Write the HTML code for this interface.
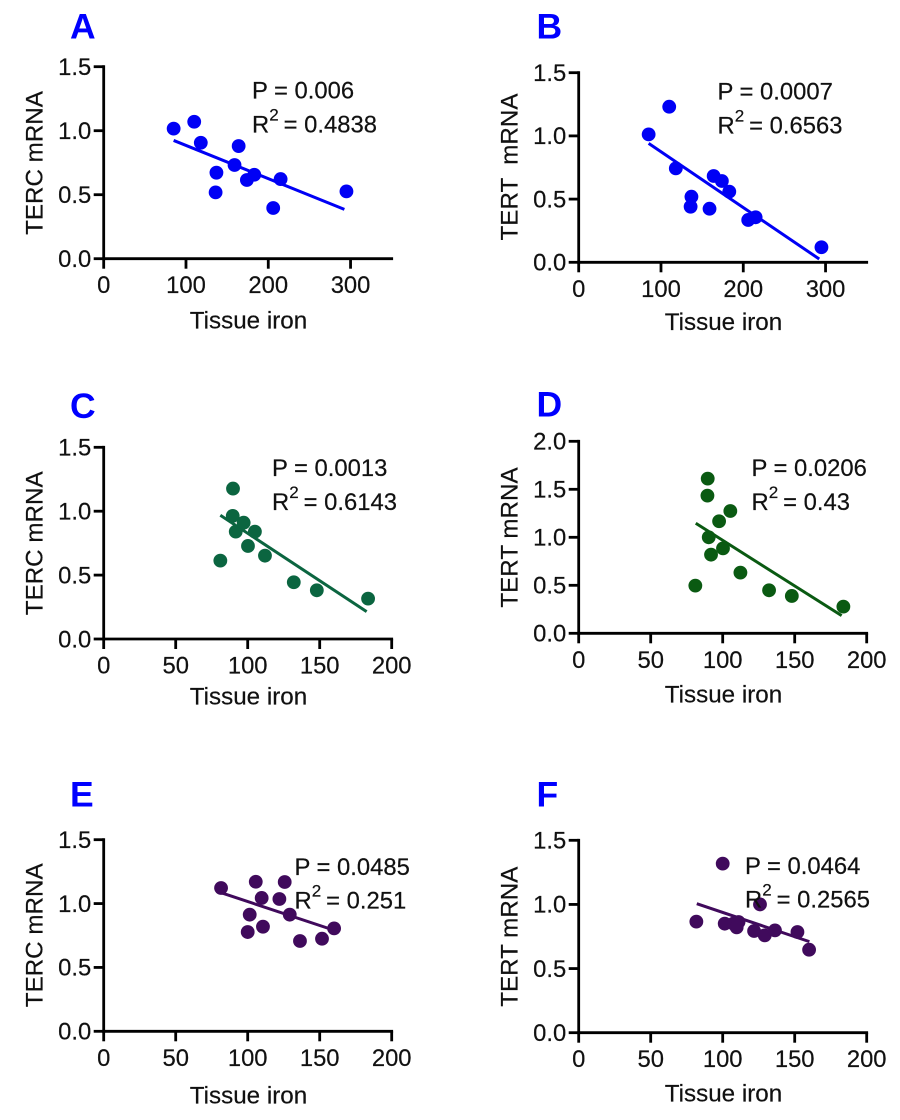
<!DOCTYPE html>
<html lang="en">
<head>
<meta charset="utf-8">
<title>Tissue iron vs TERC and TERT mRNA</title>
<style>
  html, body { margin: 0; padding: 0; background: #ffffff; }
  #figure { display: block; width: 900px; height: 1120px; }
  text { font-family: "Liberation Sans", Arial, sans-serif; fill: #111111; stroke: #111111; stroke-width: 0.2px; }
</style>
</head>
<body>
<svg id="figure" xmlns="http://www.w3.org/2000/svg" width="900" height="1120" viewBox="0 0 900 1120"></svg>
<script>
// Chart data: tissue iron (x) and mRNA (y) for each panel
const ironA = [85, 110, 118, 137, 136, 159, 164, 174, 183, 215, 206, 295];
const tercA = [1.016, 1.07, 0.906, 0.672, 0.518, 0.732, 0.88, 0.615, 0.656, 0.622, 0.396, 0.526];
const fitXA = [85, 292.5];
const fitYA = [0.924, 0.385];

const ironB = [85, 110, 118, 137, 136, 159, 164, 174, 183, 206, 215, 295];
const tertB = [1.012, 1.231, 0.743, 0.519, 0.44, 0.424, 0.683, 0.643, 0.559, 0.335, 0.356, 0.119];
const fitXB = [85, 292.3];
const fitYB = [0.941, 0.026];

const ironC = [81, 89.8, 89.6, 91.7, 97.2, 100.2, 105, 112, 132, 148, 183.6];
const tercC = [0.613, 1.177, 0.963, 0.84, 0.91, 0.728, 0.84, 0.652, 0.444, 0.381, 0.316];
const fitXC = [81, 182.6];
const fitYC = [0.968, 0.214];

const ironD = [81, 89.6, 89.4, 90.3, 91.9, 97.5, 100.2, 105.3, 112.3, 132.2, 148, 183.8];
const tertD = [0.497, 1.611, 1.434, 1.0, 0.819, 1.167, 0.885, 1.274, 0.632, 0.448, 0.389, 0.278];
const fitXD = [81.3, 182.6];
const fitYD = [1.146, 0.184];

const ironE = [81.5, 105.6, 125.7, 109.7, 122, 101.4, 129.2, 110.6, 100, 136.3, 151.6, 160];
const tercE = [1.122, 1.171, 1.169, 1.044, 1.036, 0.913, 0.913, 0.819, 0.777, 0.707, 0.725, 0.806];
const fitXE = [81.5, 159.5];
const fitYE = [1.085, 0.793];

const ironF = [100, 125.9, 81.7, 101.4, 107.4, 111, 109.7, 121.8, 129.2, 136.3, 151.9, 160];
const tertF = [1.318, 1.0, 0.866, 0.85, 0.85, 0.863, 0.821, 0.793, 0.759, 0.798, 0.785, 0.647];
const fitXF = [82, 160.2];
const fitYF = [1.006, 0.71];

// Tick labels
const xTicks300 = [0, 100, 200, 300];
const xTicks200 = [0, 50, 100, 150, 200];
const yTicks15 = ["0.0", "0.5", "1.0", "1.5"];
const yTicks20 = ["0.0", "0.5", "1.0", "1.5", "2.0"];

const svg = document.getElementById('figure');
const NS = 'http://www.w3.org/2000/svg';

function make(tag, attrs, parent, content) {
  const el = document.createElementNS(NS, tag);
  for (const key in attrs) el.setAttribute(key, attrs[key]);
  if (content !== undefined) el.textContent = content;
  parent.appendChild(el);
  return el;
}

function drawPanel(p) {
  const xMaxVal = p.xDomainMax;
  const yTickVals = p.yTicks.map(Number);
  const yMaxVal = yTickVals[yTickVals.length - 1];
  const sx = v => p.left + (v / xMaxVal) * (p.right - p.left);
  const sy = v => p.bottom - (v / yMaxVal) * (p.bottom - p.top);

  const g = make('g', {}, svg);
  
  

  const letter = make('text', { x: p.letterX, y: p.letterY, 'font-size': 35.5, 'font-weight': 'bold', style: 'fill:#0000ff;stroke:none' }, g, p.id);
  
  

  // Fit line
  const fit = make('line', {
    x1: sx(p.fitX[0]), y1: sy(p.fitY[0]), x2: sx(p.fitX[1]), y2: sy(p.fitY[1]),
    stroke: p.color, 'stroke-width': 3
  }, g);
  
  

  // Points
  p.xs.forEach((x, i) => {
    const c = make('circle', { cx: sx(x), cy: sy(p.ys[i]), r: 6.9, fill: p.color }, g);
    
    
  });

  // Axes
  const xAxis = make('line', { x1: p.left - 1.4, y1: p.bottom, x2: p.right + 1.4, y2: p.bottom, stroke: '#000', 'stroke-width': 2.8 }, g);
  
  
  const yAxis = make('line', { x1: p.left, y1: p.top - 1.4, x2: p.left, y2: p.bottom + 1.4, stroke: '#000', 'stroke-width': 2.8 }, g);
  
  

  p.xTicks.forEach(v => {
    const t = make('line', { x1: sx(v), y1: p.bottom, x2: sx(v), y2: p.bottom + 10, stroke: '#000', 'stroke-width': 2.8 }, g);
    
    
    const l = make('text', { x: sx(v), y: p.bottom + 34.5, 'font-size': 23.8, 'text-anchor': 'middle' }, g, String(v));
    
    
  });

  p.yTicks.forEach(s => {
    const v = Number(s);
    const t = make('line', { x1: p.left - 10, y1: sy(v), x2: p.left, y2: sy(v), stroke: '#000', 'stroke-width': 2.8 }, g);
    
    
    const l = make('text', { x: p.left - 12.5, y: sy(v) + 8.3, 'font-size': 23.8, 'text-anchor': 'end' }, g, s);
    
    
  });

  // Axis titles
  const xTitle = make('text', { x: p.xTitleX, y: p.xTitleY, 'font-size': 24.2, 'text-anchor': 'middle' }, g, 'Tissue iron');
  
  
  const yTitle = make('text', {
    x: 0, y: 0, 'font-size': 24.2, 'text-anchor': 'middle', 'xml:space': 'preserve', style: 'white-space:pre',
    transform: 'translate(' + p.yTitleX + ',' + p.yTitleY + ') rotate(-90)'
  }, g, p.yLabel);
  
  

  // Stats annotation
  const pText = make('text', { x: p.statX, y: p.pY, 'font-size': 23.8 }, g, 'P = ' + p.pValue);
  
  
  const rText = make('text', { x: p.statX, y: p.rY, 'font-size': 23.8 }, g);
  
  
  make('tspan', {}, rText, 'R');
  make('tspan', { dy: -12, 'font-size': 17 }, rText, '2');
  make('tspan', { dy: 12, dx: -1.6 }, rText, ' = ' + p.r2);
}

drawPanel({ id: 'A', color: '#0000f5', xs: ironA, ys: tercA, fitX: fitXA, fitY: fitYA, xTicks: xTicks300, yTicks: yTicks15,
  xDomainMax: 350, left: 103.7, right: 391.7, top: 66.7, bottom: 258.7,
  letterX: 70, letterY: 38.5, xTitleX: 248.5, xTitleY: 328.3, yTitleX: 42.7, yTitleY: 163, yLabel: 'TERC mRNA',
  statX: 252, pY: 98.3, rY: 132.7, pValue: '0.006', r2: '0.4838' });

drawPanel({ id: 'B', color: '#0000f5', xs: ironB, ys: tertB, fitX: fitXB, fitY: fitYB, xTicks: xTicks300, yTicks: yTicks15,
  xDomainMax: 350, left: 578.7, right: 866.7, top: 72.7, bottom: 262.3,
  letterX: 536.5, letterY: 38.5, xTitleX: 723.5, xTitleY: 330, yTitleX: 517.7, yTitleY: 167, yLabel: 'TERT  mRNA',
  statX: 717.5, pY: 99.3, rY: 133.3, pValue: '0.0007', r2: '0.6563' });

drawPanel({ id: 'C', color: '#0b6540', xs: ironC, ys: tercC, fitX: fitXC, fitY: fitYC, xTicks: xTicks200, yTicks: yTicks15,
  xDomainMax: 200, left: 103.7, right: 391.7, top: 447.3, bottom: 639,
  letterX: 70, letterY: 418, xTitleX: 248.5, xTitleY: 704.3, yTitleX: 42.7, yTitleY: 543.3, yLabel: 'TERC mRNA',
  statX: 272, pY: 476, rY: 510, pValue: '0.0013', r2: '0.6143' });

drawPanel({ id: 'D', color: '#0a5a12', xs: ironD, ys: tertD, fitX: fitXD, fitY: fitYD, xTicks: xTicks200, yTicks: yTicks20,
  xDomainMax: 200, left: 578.7, right: 866.7, top: 441.3, bottom: 633.3,
  letterX: 536.5, letterY: 416.7, xTitleX: 723.5, xTitleY: 702.7, yTitleX: 517.7, yTitleY: 537.5, yLabel: 'TERT mRNA',
  statX: 751.5, pY: 476, rY: 510, pValue: '0.0206', r2: '0.43' });

drawPanel({ id: 'E', color: '#400a5c', xs: ironE, ys: tercE, fitX: fitXE, fitY: fitYE, xTicks: xTicks200, yTicks: yTicks15,
  xDomainMax: 200, left: 103.7, right: 391.7, top: 839.7, bottom: 1031.3,
  letterX: 70, letterY: 806.7, xTitleX: 248.5, xTitleY: 1103.3, yTitleX: 42.7, yTitleY: 935.3, yLabel: 'TERC mRNA',
  statX: 294.5, pY: 875, rY: 908.3, pValue: '0.0485', r2: '0.251' });

drawPanel({ id: 'F', color: '#400a5c', xs: ironF, ys: tertF, fitX: fitXF, fitY: fitYF, xTicks: xTicks200, yTicks: yTicks15,
  xDomainMax: 200, left: 578.7, right: 866.7, top: 840.3, bottom: 1032.7,
  letterX: 536.5, letterY: 806.7, xTitleX: 723.5, xTitleY: 1101.7, yTitleX: 517.7, yTitleY: 936.7, yLabel: 'TERT mRNA',
  statX: 745, pY: 874, rY: 907.7, pValue: '0.0464', r2: '0.2565' });
</script>
</body>
</html>
